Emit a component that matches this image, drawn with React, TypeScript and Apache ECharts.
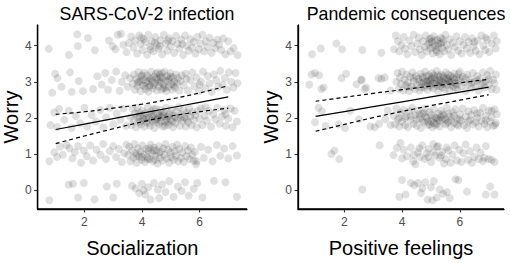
import React, { useEffect, useRef } from "react";
import * as echarts from "echarts";

type Pt = [number, number];

const panelTitles = ["SARS-CoV-2 infection", "Pandemic consequences"];
const xAxisNames = ["Socialization", "Positive feelings"];
const yAxisName = "Worry";
const xTickValues = [2, 4, 6];
const yTickValues = [0, 1, 2, 3, 4];

// ---- Panel 1: Socialization vs Worry (jittered observations) ----
const soc4: Pt[] = [
  [0.76,3.91],[1.46,3.74],[1.75,4.31],[1.77,3.99],[2.12,4.21],[2.36,3.87],[2.85,4.14],[2.98,3.98],
  [3.16,4.3],[3.27,4.33],[3.08,3.9],[3.35,4.02],[3.46,3.82],[3.54,4.07],[3.62,4.25],[3.7,3.95],[3.76,4.14],[3.83,3.78],
  [3.9,4.28],[3.95,4.05],[4.02,3.88],[4.06,4.18],[4.12,4.1],[4.18,3.75],[4.22,4.3],[4.28,3.97],[4.35,4.12],[4.4,3.84],
  [4.47,4.24],[4.52,4.02],[4.58,3.92],[4.64,4.15],[4.7,3.76],[4.76,4.3],[4.82,4.06],[4.88,3.86],[4.94,4.2],[5.0,3.98],
  [5.06,4.12],[5.12,3.8],[5.18,4.27],[5.24,4.05],[5.3,3.92],[5.37,4.16],[5.43,3.74],[5.5,4.28],[5.56,4.0],[5.62,3.86],
  [5.68,4.18],[5.74,3.95],[5.8,4.1],[5.86,3.78],[5.92,4.24],[5.98,3.9],[6.04,4.06],[6.1,4.3],[6.16,3.84],[6.22,4.12],
  [6.28,3.96],[6.35,4.22],[6.42,3.8],[6.48,4.08],[6.55,3.93],[6.62,4.16],[6.68,4.03],[6.75,3.88],[6.82,4.2],[6.9,3.76],
  [7.0,4.12],[7.08,3.84],[7.19,3.93],[7.32,3.74],[4.45,4.08],[4.9,4.14],[5.4,4.04],[3.98,4.22],[4.3,3.9],[4.62,3.98],
];
const soc3: Pt[] = [
  [0.88,2.7],[0.98,3.22],[1.06,3.1],[1.2,2.86],[1.5,3.26],[1.56,2.72],[1.8,3.02],[1.95,2.74],[2.3,2.8],[2.45,3.15],
  [2.6,2.92],[2.72,3.24],[2.82,2.78],[2.95,3.05],[3.1,3.28],[3.22,2.75],[3.3,3.0],[3.42,3.18],[3.5,2.86],[3.58,3.1],
  [3.68,2.95],[3.72,3.2],[3.75,2.78],[3.8,3.08],[3.84,2.88],[3.88,3.27],[3.9,3.0],[3.95,2.74],[3.98,3.15],[4.02,2.9],
  [4.05,3.05],[4.08,3.25],[4.12,2.8],[4.15,2.98],[4.18,3.18],[4.22,2.72],[4.25,3.1],[4.28,2.9],[4.32,3.28],[4.35,3.02],
  [4.38,2.82],[4.42,3.14],[4.45,2.96],[4.48,3.22],[4.52,2.76],[4.55,3.06],[4.58,2.88],[4.62,3.2],[4.65,3.0],[4.68,2.78],
  [4.72,3.12],[4.75,2.92],[4.78,3.28],[4.82,3.04],[4.85,2.74],[4.88,3.16],[4.92,2.86],[4.95,3.08],[4.98,3.24],[5.02,2.94],
  [5.05,2.78],[5.08,3.12],[5.12,3.0],[5.15,2.84],[5.18,3.2],[5.22,2.96],[5.25,3.1],[5.3,2.76],[5.34,3.02],[5.38,3.18],
  [3.85,2.98],[4.0,3.18],[4.1,2.88],[4.3,3.08],[4.4,2.9],[4.5,3.1],[4.6,2.98],[4.7,3.24],[4.8,2.84],[4.9,3.02],
  [5.0,3.14],[5.1,2.9],[4.2,3.02],[4.55,3.26],[4.75,2.82],[3.95,3.06],[4.65,3.12],[4.25,2.86],
  [5.45,2.9],[5.52,3.22],[5.6,2.76],[5.68,3.05],[5.75,3.26],[5.82,2.88],[5.9,3.12],[5.98,2.74],[6.05,3.0],[6.12,3.28],
  [6.2,2.82],[6.28,3.16],[6.35,2.95],[6.42,2.72],[6.5,3.2],[6.58,3.04],[6.65,2.86],[6.72,3.3],[6.8,2.92],[6.88,3.1],
  [6.95,2.78],[7.02,3.26],[7.1,3.0],[7.18,2.84],[7.25,3.24],[7.32,2.96],[5.55,3.08],[6.0,2.92],
];
const soc2: Pt[] = [
  [0.82,1.8],[0.95,2.15],[1.05,1.75],[1.12,2.25],[1.3,1.95],[1.45,2.2],[1.55,1.72],[1.7,2.05],[1.85,1.85],[2.0,2.28],
  [2.1,1.76],[2.25,2.08],[2.4,1.9],[2.55,2.22],[2.65,1.74],[2.75,2.02],[2.88,2.28],[3.0,1.82],[3.12,2.12],[3.25,1.95],
  [3.35,2.26],[3.45,1.78],
  [3.6,2.02],[3.64,1.8],[3.68,2.25],[3.72,1.95],[3.76,2.12],[3.8,1.74],[3.84,2.28],[3.88,1.9],[3.92,2.06],[3.96,1.82],
  [4.0,2.2],[4.04,1.98],[4.08,1.76],[4.12,2.14],[4.16,1.88],[4.2,2.3],[4.24,2.0],[4.28,1.78],[4.32,2.18],[4.36,1.92],
  [4.4,2.08],[4.44,1.72],[4.48,2.26],[4.52,1.96],[4.56,2.1],[4.6,1.84],[4.64,2.22],[4.68,2.02],[4.72,1.76],[4.76,2.16],
  [4.8,1.9],[4.84,2.28],[4.88,2.04],[4.92,1.8],[4.96,2.12],[5.0,1.94],[5.04,2.24],[5.08,1.74],[5.12,2.06],[5.16,1.86],
  [5.2,2.18],[5.24,1.98],[5.28,2.3],[5.32,1.78],[5.36,2.1],[5.4,1.92],[5.44,2.22],[5.48,2.0],[5.52,1.76],[5.56,2.14],
  [5.6,1.88],[5.64,2.26],[5.68,2.04],[5.72,1.8],[5.76,2.16],[5.8,1.94],[5.85,2.08],[5.9,1.74],[5.95,2.2],[6.0,1.98],
  [3.85,2.02],[3.95,1.9],[4.05,2.08],[4.15,2.0],[4.25,1.86],[4.35,2.04],[4.45,1.94],[4.55,2.02],[4.65,1.9],[4.75,2.06],
  [4.85,1.96],[4.95,2.08],[5.05,1.9],[4.1,1.96],[4.3,2.1],[4.5,1.88],[4.7,2.12],[4.9,1.88],[3.9,2.14],[4.6,2.06],
  [5.15,2.02],[5.35,2.0],[5.55,1.96],[4.4,2.24],[4.8,1.78],
  [6.05,2.26],[6.1,1.8],[6.18,2.06],[6.25,1.92],[6.32,2.2],[6.4,1.76],[6.48,2.1],[6.55,1.96],[6.62,2.28],[6.7,1.84],
  [6.78,2.04],[6.85,2.22],[6.92,1.78],[7.0,1.98],[7.08,2.26],[7.15,1.74],[7.22,2.2],[7.3,1.9],[6.2,2.3],[6.9,2.1],
];
const soc1: Pt[] = [
  [0.78,0.8],[0.95,1.05],[1.05,0.92],[1.15,1.2],[1.25,0.98],[1.38,1.25],[1.48,1.16],[1.58,0.88],[1.66,1.05],[1.78,1.22],
  [1.88,0.76],[1.98,1.1],[2.08,0.94],[2.2,1.24],[2.3,0.82],[2.42,1.12],[2.55,0.98],[2.65,1.28],[2.75,0.86],[2.88,1.08],
  [3.0,1.22],[3.1,0.92],[3.2,1.14],[3.3,0.78],[3.38,1.02],[3.46,1.26],
  [3.52,0.98],[3.56,1.2],[3.6,0.8],[3.65,1.1],[3.7,0.9],[3.74,1.28],[3.78,1.02],[3.82,0.76],[3.86,1.16],[3.9,0.94],
  [3.94,1.06],[3.98,0.84],[4.02,1.24],[4.06,1.0],[4.1,0.78],[4.14,1.14],[4.18,0.92],[4.22,1.08],[4.26,0.86],[4.3,1.26],
  [4.34,1.02],[4.38,0.8],[4.42,1.18],[4.46,0.96],[4.5,1.1],[4.54,0.74],[4.58,1.22],[4.62,0.9],[4.66,1.06],[4.7,0.82],
  [4.74,1.16],[4.78,0.98],[4.82,1.28],[4.86,0.88],[4.9,1.12],[4.94,0.76],[4.98,1.04],[5.02,0.92],[5.06,1.2],[5.1,0.84],
  [5.14,1.08],[5.18,0.96],[5.22,1.26],[5.26,0.8],[5.3,1.14],[5.35,0.9],[5.4,1.04],[5.45,0.78],[5.5,1.22],[5.55,0.94],
  [5.6,1.1],[5.65,0.86],[5.7,1.18],[5.75,0.98],[5.8,0.82],[5.84,1.06],[5.88,0.72],[5.9,0.8],
  [3.8,0.96],[4.0,0.92],[4.2,0.86],[4.4,1.1],[4.6,1.02],[4.25,1.16],[4.45,0.84],
  [6.05,1.2],[6.15,0.9],[6.3,1.12],[6.45,0.8],[6.6,1.25],[6.72,0.95],[6.85,1.15],[7.0,0.88],[7.15,1.22],[7.3,0.96],
];
const soc0: Pt[] = [
  [0.78,-0.28],[1.45,0.15],[1.6,0.18],[1.78,-0.2],[1.98,0.2],[2.35,-0.25],[2.78,0.1],[3.0,-0.2],[3.12,0.18],[3.65,0.12],
  [3.78,0.05],[3.9,-0.08],[4.0,0.18],[4.12,-0.12],[4.22,0.08],[4.3,-0.26],[4.42,0.2],[4.55,0.02],[4.7,0.16],[4.82,-0.05],
  [4.95,0.25],[5.1,-0.18],[5.25,0.1],[5.38,-0.02],[5.5,0.22],[5.62,-0.15],[5.8,0.04],[5.92,0.2],[6.1,-0.2],[6.5,0.26],
  [6.9,0.22],[7.3,-0.18],[4.05,0.0],[4.6,-0.22],
];

// ---- Panel 2: Positive feelings vs Worry (jittered observations) ----
const pos4: Pt[] = [
  [0.88,3.76],[1.18,3.92],[1.72,4.06],[1.92,3.9],[2.62,3.88],[3.28,3.8],[3.78,4.28],[3.72,3.9],
  [3.85,4.12],[3.9,3.84],[3.98,4.02],[4.05,4.24],[4.1,3.92],[4.18,3.76],[4.25,4.14],[4.32,3.98],[4.4,4.3],[4.45,3.82],
  [4.52,4.06],[4.58,4.22],[4.62,3.9],[4.68,3.74],[4.72,4.12],[4.78,3.96],[4.82,4.28],[4.86,3.84],[4.9,4.04],[4.94,4.18],
  [4.98,3.92],[5.02,4.1],[5.06,3.78],[5.1,4.26],[5.14,4.0],[5.18,3.88],[5.22,4.16],[5.26,4.06],[5.3,3.76],[5.34,4.22],
  [5.38,3.94],[5.42,4.1],[5.46,3.84],[5.5,4.3],[5.55,4.02],[5.6,3.9],[5.65,4.18],[5.7,3.74],[5.76,4.08],[5.82,3.96],
  [5.88,4.26],[5.94,3.86],[6.0,4.12],[6.06,3.78],[6.12,4.02],[6.18,4.24],[6.24,3.92],[6.3,4.1],[6.36,3.8],[6.42,4.2],
  [6.48,3.98],[6.55,3.86],[6.62,4.14],[6.68,3.76],[6.75,4.28],[6.82,4.0],[6.88,3.88],[6.95,4.16],[7.02,3.82],[7.1,4.06],
  [7.18,4.28],[7.24,3.92],[7.28,4.12],
  [4.95,4.1],[5.05,3.96],[5.15,4.14],[5.25,3.96],[5.35,4.06],[5.0,4.2],[5.2,3.82],[5.4,4.18],[6.9,4.22],[6.5,4.1],
];
const pos3: Pt[] = [
  [0.78,2.92],[0.86,3.2],[0.98,3.24],[1.12,3.18],[1.28,2.84],[1.2,2.8],[1.9,3.1],[2.06,3.22],[2.42,2.93],[2.58,3.06],
  [2.6,3.04],[2.75,2.84],[2.7,2.8],[3.18,3.1],[3.4,3.12],[3.28,3.08],[3.6,2.76],
  [3.8,3.0],[3.84,3.24],[3.88,2.8],[3.92,3.12],[3.96,2.94],[4.0,3.28],[4.04,2.76],[4.08,3.06],[4.12,2.9],[4.16,3.2],
  [4.2,2.98],[4.24,2.74],[4.28,3.14],[4.32,2.86],[4.36,3.26],[4.4,3.02],[4.44,2.8],[4.48,3.16],[4.52,2.92],[4.56,3.08],
  [4.6,2.76],[4.64,3.22],[4.68,2.96],[4.72,3.1],[4.76,2.84],[4.8,3.28],[4.84,3.0],[4.88,2.78],[4.92,3.18],[4.96,2.9],
  [5.0,3.06],[5.04,3.24],[5.08,2.82],[5.12,3.12],[5.16,2.94],[5.2,3.3],[5.24,2.74],[5.28,3.04],[5.32,2.88],[5.36,3.2],
  [5.4,2.98],[5.44,3.1],[5.48,2.8],[5.52,3.26],[5.56,2.92],[5.6,3.08],[5.64,2.76],[5.68,3.16],[5.72,3.0],[5.76,2.86],
  [5.8,3.22],[5.84,2.96],[5.88,3.12],[5.92,2.78],[5.96,3.04],[6.0,3.28],[6.05,2.88],[6.1,3.14],[6.15,2.98],[6.2,2.74],
  [6.25,3.2],[6.3,2.92],[6.35,3.06],[6.4,2.82],[6.45,3.24],[6.5,3.0],[6.55,2.86],[6.6,3.16],[6.65,2.76],[6.7,3.08],
  [6.75,2.94],[6.8,3.26],[6.85,2.84],[6.9,3.02],[6.95,3.18],[7.0,2.9],[7.05,3.3],[7.1,2.8],[7.15,3.06],[7.2,2.96],
  [7.25,3.2],[7.27,2.78],
  [4.6,3.0],[4.7,3.14],[4.8,2.9],[4.9,3.04],[5.0,2.86],[5.1,3.18],[5.2,3.0],[5.3,3.14],[5.4,2.84],[5.5,3.04],
  [5.6,3.2],[5.7,2.9],[5.8,3.06],[5.9,2.94],[6.0,3.1],[4.65,2.84],[4.75,3.0],[4.85,3.16],[4.95,3.02],[5.05,2.96],
  [5.15,3.06],[5.25,3.18],[5.35,3.0],[5.45,2.94],[5.55,3.1],[5.65,2.98],[5.75,3.12],[5.85,2.84],[5.95,3.22],[5.02,3.12],
  [5.22,2.88],[5.42,3.16],[5.62,3.02],[4.9,2.96],[5.3,2.96],[4.4,3.1],[4.2,2.86],[6.2,3.1],[6.4,2.98],[6.6,3.04],
  [6.8,2.96],[7.0,3.08],
];
const pos2: Pt[] = [
  [0.98,1.88],[1.1,2.28],[1.22,2.18],[1.35,1.78],[1.8,1.82],[2.02,1.72],[2.2,2.2],[2.5,1.96],[2.9,1.76],[3.05,1.74],
  [3.2,1.84],[3.42,1.96],[3.5,2.2],[3.6,1.8],
  [3.7,2.06],[3.75,1.82],[3.8,2.26],[3.85,1.96],[3.9,1.76],[3.95,2.14],[4.0,1.9],[4.05,2.22],[4.1,1.8],[4.15,2.04],
  [4.2,1.74],[4.25,2.18],[4.3,1.94],[4.35,2.28],[4.4,1.84],[4.45,2.08],[4.5,1.78],[4.55,2.2],[4.6,1.98],[4.65,1.72],
  [4.7,2.12],[4.75,1.88],[4.8,2.26],[4.85,2.0],[4.9,1.8],[4.95,2.16],[5.0,1.92],[5.05,1.74],[5.1,2.24],[5.15,2.02],
  [5.2,1.84],[5.25,2.12],[5.3,1.76],[5.35,2.2],[5.4,1.96],[5.45,2.08],[5.5,1.82],[5.55,2.28],[5.6,1.9],[5.65,2.04],
  [5.7,1.74],[5.75,2.16],[5.8,1.86],[5.85,2.24],[5.9,1.98],[5.95,1.78],[6.0,2.1],[6.05,1.92],[6.1,2.26],[6.15,1.8],
  [6.2,2.04],[6.25,1.72],[6.3,2.18],[6.35,1.94],[6.4,2.08],[6.45,1.82],[6.5,2.22],[6.55,1.88],[6.6,2.0],[6.65,1.76],
  [6.7,2.14],[6.75,1.92],[6.8,2.28],[6.85,1.84],[6.9,2.06],[6.95,1.74],[7.0,2.2],[7.05,1.9],[7.1,2.02],[7.15,1.78],
  [7.2,2.24],[7.25,1.86],[7.28,2.1],[7.22,1.8],
  [4.6,2.1],[4.7,1.92],[4.8,2.04],[4.9,1.9],[5.0,2.08],[5.1,1.86],[5.2,2.0],[5.3,1.92],[5.4,2.1],[5.5,1.96],
  [5.6,2.12],[5.7,1.94],[5.8,2.06],[5.9,1.82],[6.0,1.96],[5.05,1.98],[5.15,1.8],[5.25,1.96],[4.95,1.82],[5.35,2.02],
  [4.75,2.14],[5.55,1.86],[4.3,2.06],[4.5,1.96],[6.3,1.9],[6.6,2.12],[6.9,1.94],[7.1,2.2],[4.1,2.0],[3.9,2.0],
];
const pos1: Pt[] = [
  [1.55,1.0],[1.65,1.1],[1.82,0.86],[3.22,1.24],
  [3.7,0.97],[3.82,1.17],[3.94,1.31],[4.05,1.12],[4.17,0.94],[4.3,1.18],[4.38,0.8],[4.46,0.72],[4.55,1.05],[4.62,0.92],
  [4.7,1.24],[4.78,0.86],[4.85,1.02],[4.92,1.14],[5.0,0.78],[5.08,1.28],[5.14,0.96],[5.2,1.2],[5.25,1.22],[5.3,0.9],
  [5.38,1.06],[5.45,0.74],[5.52,0.86],[5.6,1.1],[5.68,0.76],[5.75,0.98],[5.82,1.24],[5.9,0.82],[5.98,1.12],[6.05,0.78],
  [6.12,1.02],[6.2,1.26],[6.28,0.84],[6.35,1.08],[6.42,0.76],[6.5,0.92],[6.58,1.18],[6.65,0.86],[6.72,1.04],[6.8,0.8],
  [6.9,1.22],[7.0,0.86],[7.1,0.84],[7.2,0.78],[4.4,0.98],[4.6,1.16],[4.9,0.92],[5.1,1.06],[5.35,0.96],[5.55,1.18],
  [4.0,0.88],[6.85,0.9],
];
const pos0: Pt[] = [
  [2.62,0.02],[3.9,-0.18],[4.0,0.28],[4.12,-0.12],[4.3,0.2],[4.42,0.14],[4.55,0.2],[4.65,-0.08],[4.8,0.22],[4.88,-0.26],
  [5.0,0.08],[5.05,-0.28],[5.1,0.25],[5.2,-0.2],[5.3,0.02],[5.42,-0.1],[5.55,-0.05],[5.65,-0.22],[5.85,0.3],[6.25,-0.04],
  [6.9,-0.12],[7.05,0.1],[7.2,-0.12],[4.7,0.05],[5.95,0.28],
];

// ---- Fitted lines and confidence bounds ----
const fitX = [1, 2, 3, 4, 5, 6, 7];
const socFit = [1.68, 1.83, 1.98, 2.13, 2.28, 2.43, 2.58];
const socUpper = [2.1, 2.17, 2.27, 2.38, 2.52, 2.69, 2.89];
const socLower = [1.29, 1.5, 1.7, 1.89, 2.05, 2.17, 2.27];
const posFit = [2.04, 2.175, 2.31, 2.445, 2.58, 2.715, 2.85];
const posUpper = [2.46, 2.57, 2.68, 2.78, 2.88, 2.97, 3.07];
const posLower = [1.63, 1.82, 2.01, 2.18, 2.34, 2.49, 2.64];

const FONT = "'Liberation Sans', Arial, Helvetica, sans-serif";
const Y_MIN = -0.52;
const Y_MAX = 4.57;

export default function App() {
  const ref = useRef<HTMLDivElement>(null);
  useEffect(() => {
    if (!ref.current) return;
    const chart = echarts.init(ref.current, undefined, { renderer: "svg" });
    const grids = [
      { left: 37, top: 25, width: 210, height: 185 },
      { left: 298, top: 25, width: 206, height: 185 },
    ];
    const xRanges = [
      [0.37, 7.65],
      [0.39, 7.53],
    ];
    const mk = (xs: number[], ys: number[]) => xs.map((x, i) => [x, ys[i]]);
    const scatterData = [
      [...soc4, ...soc3, ...soc2, ...soc1, ...soc0],
      [...pos4, ...pos3, ...pos2, ...pos1, ...pos0],
    ];
    const fits = [
      [socFit, socUpper, socLower],
      [posFit, posUpper, posLower],
    ];
    const series: any[] = [];
    [0, 1].forEach((p) => {
      series.push({
        type: "scatter",
        xAxisIndex: p,
        yAxisIndex: p,
        data: scatterData[p],
        symbol: "circle",
        symbolSize: 8,
        itemStyle: { color: "#000", opacity: 0.12 },
        silent: true,
        z: 2,
      });
      fits[p].forEach((vals, k) => {
        series.push({
          type: "line",
          xAxisIndex: p,
          yAxisIndex: p,
          data: mk(fitX, vals),
          showSymbol: false,
          smooth: k === 0 ? false : 0.4,
          lineStyle: {
            color: "#000",
            width: 1.2,
            type: k === 0 ? "solid" : [4, 3],
          },
          silent: true,
          z: 5,
        });
      });
      // Panel frame (bottom and left axis lines) along the axes' own extents.
      const [x0, x1] = xRanges[p];
      series.push({
        type: "line",
        xAxisIndex: p,
        yAxisIndex: p,
        data: [[x0, Y_MAX], [x0, Y_MIN], [x1, Y_MIN]],
        showSymbol: false,
        clip: false,
        lineStyle: { color: "#000", width: 1.3 },
        silent: true,
        z: 6,
      });
    });

    const mainX = [0, 1].map((p) => ({
      type: "value",
      gridIndex: p,
      position: "bottom",
      min: xRanges[p][0],
      max: xRanges[p][1],
      name: xAxisNames[p],
      nameLocation: "middle",
      nameGap: 29,
      nameTextStyle: { fontSize: 20, color: "#000", fontFamily: FONT },
      splitLine: { show: false },
      axisLine: { show: true, onZero: true, onZeroAxisIndex: 2 + p, lineStyle: { color: "#000", width: 1.3 } },
      axisTick: { show: true, length: 3.5, customValues: xTickValues, lineStyle: { color: "#333", width: 1.1 } },
      axisLabel: { customValues: xTickValues, fontSize: 12, color: "#4d4d4d", margin: 7, fontFamily: FONT },
    }));
    const helperX = [0, 1].map((p) => ({
      type: "value",
      gridIndex: p,
      min: 0,
      max: 1,
      show: false,
    }));
    const mainY = [0, 1].map((p) => ({
      type: "value",
      gridIndex: p,
      position: "left",
      min: Y_MIN,
      max: Y_MAX,
      name: yAxisName,
      nameLocation: "middle",
      nameGap: 15,
      nameRotate: 90,
      nameTextStyle: { fontSize: 20, color: "#000", fontFamily: FONT },
      splitLine: { show: false },
      axisLine: { show: true, onZero: true, onZeroAxisIndex: 2 + p, lineStyle: { color: "#000", width: 1.3 } },
      axisTick: { show: true, length: 3.5, customValues: yTickValues, lineStyle: { color: "#333", width: 1.1 } },
      axisLabel: { customValues: yTickValues, fontSize: 12, color: "#4d4d4d", margin: 6, fontFamily: FONT },
    }));
    const helperY = [0, 1].map((p) => ({
      type: "value",
      gridIndex: p,
      min: 0,
      max: 1,
      show: false,
    }));

    chart.setOption({
      animation: false,
      backgroundColor: "#fff",
      textStyle: { fontFamily: FONT },
      title: [0, 1].map((p) => ({
        text: panelTitles[p],
        left: grids[p].left + grids[p].width / 2,
        textAlign: "center",
        top: 0,
        textStyle: { fontSize: 17.8, fontWeight: "normal", color: "#000", fontFamily: FONT },
      })),
      grid: grids,
      xAxis: [...mainX, ...helperX],
      yAxis: [...mainY, ...helperY],
      series,
    });
    return () => chart.dispose();
  }, []);
  return (
    <div
      ref={ref}
      style={{ position: "absolute", left: 0, top: 0, width: 510, height: 263 }}
    />
  );
}
